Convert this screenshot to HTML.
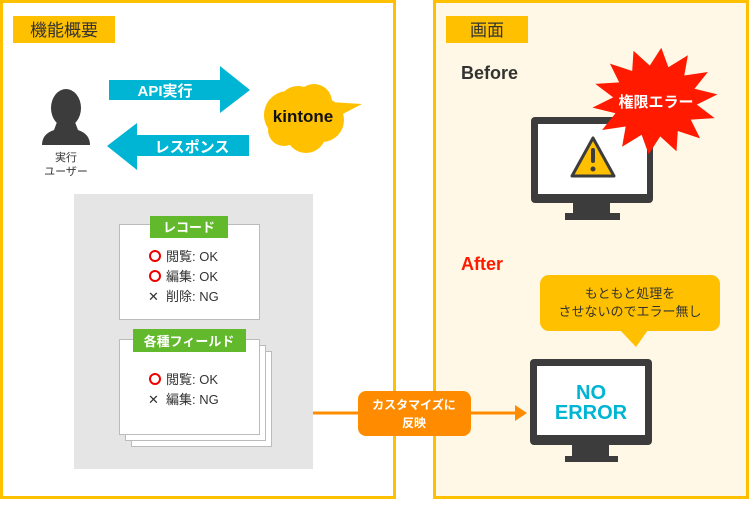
<!DOCTYPE html>
<html><head><meta charset="utf-8"><style>
body{margin:0;width:750px;height:500px;overflow:hidden;background:#fff}
svg text{font-family:"Liberation Sans","Noto Sans CJK JP",sans-serif}
</style></head><body>
<svg id="s" width="750" height="500" viewBox="0 0 750 500" xmlns="http://www.w3.org/2000/svg">
<rect x="0" y="0" width="750" height="500" fill="#fff"/>
<rect x="1.5" y="1.5" width="393" height="496" fill="#fff" stroke="#ffc000" stroke-width="3"/>
<rect x="434.5" y="1.5" width="313" height="496" fill="#fff8e6" stroke="#ffc000" stroke-width="3"/>
<rect x="13" y="16" width="102" height="27" fill="#ffc000"/>
<text x="64" y="36" font-size="17" fill="#333" text-anchor="middle">機能概要</text>
<rect x="446" y="16" width="82" height="27" fill="#ffc000"/>
<text x="487" y="36" font-size="17" fill="#333" text-anchor="middle">画面</text>
<!-- arrows -->
<polygon points="109,80 220,80 220,66 250,90 220,113 220,100 109,100" fill="#00b4d4"/>
<text x="165" y="96" font-size="15" font-weight="bold" fill="#fff" text-anchor="middle">API実行</text>
<polygon points="107,146 137,123 137,135 249,135 249,156 137,156 137,170" fill="#00b4d4"/>
<text x="192" y="152" font-size="15" font-weight="bold" fill="#fff" text-anchor="middle">レスポンス</text>
<!-- person -->
<ellipse cx="66" cy="108" rx="15" ry="19" fill="#3c3c3c"/>
<path d="M57,122 L75,122 L78,130 Q90,134 90,145 L42,145 Q42,134 54,130 Z" fill="#3c3c3c"/>
<text x="66" y="161" font-size="11" fill="#333" text-anchor="middle">実行</text>
<text x="66" y="175" font-size="11" fill="#333" text-anchor="middle">ユーザー</text>
<!-- kintone cloud -->
<g fill="#ffc000">
<circle cx="288" cy="115" r="24"/><circle cx="314" cy="102" r="18"/><circle cx="298" cy="106" r="20"/>
<circle cx="322" cy="120" r="22"/><circle cx="306" cy="133" r="20"/><circle cx="284" cy="130" r="16"/>
<polygon points="330,102 362,104 335,118"/>
</g>
<text x="303" y="122" font-size="17" font-weight="bold" fill="#111" text-anchor="middle">kintone</text>
<!-- gray box -->
<rect x="74" y="194" width="239" height="275" fill="#e5e5e5"/>
<rect x="119.5" y="224.5" width="140" height="95" fill="#fff" stroke="#bbb"/>
<rect x="150" y="216" width="78" height="22" fill="#62b92b"/>
<text x="189" y="232" font-size="13" font-weight="bold" fill="#fff" text-anchor="middle">レコード</text>
<g font-size="13" fill="#333">
<circle cx="155" cy="256" r="5" fill="none" stroke="#e00" stroke-width="2"/><text x="166" y="261">閲覧: OK</text>
<circle cx="155" cy="276" r="5" fill="none" stroke="#e00" stroke-width="2"/><text x="166" y="281">編集: OK</text>
<text x="148" y="301">✕</text><text x="166" y="301">削除: NG</text>
</g>
<rect x="131.5" y="351.5" width="140" height="95" fill="#fff" stroke="#bbb"/>
<rect x="125.5" y="345.5" width="140" height="95" fill="#fff" stroke="#bbb"/>
<rect x="119.5" y="339.5" width="140" height="95" fill="#fff" stroke="#bbb"/>
<rect x="133" y="329" width="113" height="23" fill="#62b92b"/>
<text x="189" y="346" font-size="13" font-weight="bold" fill="#fff" text-anchor="middle">各種フィールド</text>
<g font-size="13" fill="#333">
<circle cx="155" cy="379" r="5" fill="none" stroke="#e00" stroke-width="2"/><text x="166" y="384">閲覧: OK</text>
<text x="148" y="404">✕</text><text x="166" y="404">編集: NG</text>
</g>
<!-- orange connector -->
<line x1="313" y1="413" x2="516" y2="413" stroke="#ff8c00" stroke-width="3"/>
<polygon points="515,405 527,413 515,421" fill="#ff8c00"/>
<rect x="358" y="391" width="113" height="45" rx="8" fill="#ff8c00"/>
<text x="414" y="409" font-size="12" font-weight="bold" fill="#fff" text-anchor="middle">カスタマイズに</text>
<text x="414" y="427" font-size="12" font-weight="bold" fill="#fff" text-anchor="middle">反映</text>
<!-- before -->
<text x="461" y="79" font-size="18" font-weight="bold" fill="#333">Before</text>
<rect x="531" y="117" width="122" height="86" rx="4" fill="#3c3c3c"/>
<rect x="538" y="124" width="109" height="70" fill="#fff"/>
<rect x="573" y="203" width="37" height="12" fill="#3c3c3c"/>
<rect x="565" y="213" width="55" height="7" fill="#3c3c3c"/>
<polygon points="593,138 614,176 572,176" fill="#ffc000" stroke="#3c3c3c" stroke-width="3" stroke-linejoin="round"/>
<rect x="591" y="148" width="4" height="15" rx="2" fill="#3c3c3c"/><circle cx="593" cy="169" r="2.5" fill="#3c3c3c"/>
<polygon id="burst" fill="#ff1a00"/>
<text x="656" y="107" font-size="15" font-weight="bold" fill="#fff" text-anchor="middle">権限エラー</text>
<!-- after -->
<text x="461" y="270" font-size="18" font-weight="bold" fill="#ff1a00">After</text>
<rect x="540" y="275" width="180" height="56" rx="9" fill="#ffc000"/>
<polygon points="620,330 648,330 636,347" fill="#ffc000"/>
<text x="630" y="298" font-size="13" fill="#333" text-anchor="middle">もともと処理を</text>
<text x="630" y="316" font-size="13" fill="#333" text-anchor="middle">させないのでエラー無し</text>
<rect x="530" y="359" width="122" height="86" rx="4" fill="#3c3c3c"/>
<rect x="537" y="366" width="108" height="69" fill="#fff"/>
<rect x="572" y="445" width="37" height="12" fill="#3c3c3c"/>
<rect x="565" y="456" width="53" height="6" fill="#3c3c3c"/>
<text x="591" y="399" font-size="20" font-weight="bold" fill="#00b4d4" text-anchor="middle">NO</text>
<text x="591" y="419" font-size="20" font-weight="bold" fill="#00b4d4" text-anchor="middle">ERROR</text>
</svg>
<script>
var p=[],cx=655,cy=101,n=14;
for(var i=0;i<n*2;i++){var r=i%2?42:63,a=Math.PI*i/n-Math.PI/2+0.1;p.push((cx+r*Math.cos(a)).toFixed(1)+","+(cy+r*0.85*Math.sin(a)).toFixed(1));}
document.getElementById("burst").setAttribute("points",p.join(" "));
</script>
</body></html>
